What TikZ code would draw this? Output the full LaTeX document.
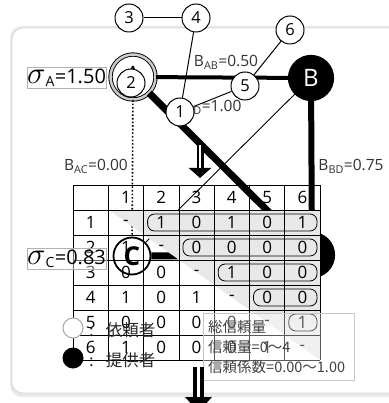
\documentclass[tikz,border=0pt]{standalone}
\usepackage{fontspec}
\usepackage{graphicx}
\setmainfont{Open Sans}
\newfontfamily\jpfont{Noto Sans CJK JP}
\usetikzlibrary{arrows.meta}

\begin{document}
\begin{tikzpicture}[x=1pt,y=-1pt,>=latex,
  num/.style={circle,draw,fill=white,line width=1pt,minimum size=28pt,inner sep=0pt,font=\fontsize{16.5}{16.5}\selectfont},
  agent/.style={circle,draw,line width=1.2pt,minimum size=45pt,inner sep=0pt,font=\fontsize{24}{24}\selectfont},
  weight/.style={inner sep=0pt,text=black!80,font=\fontsize{15.5}{15.5}\selectfont},
  sigmaBox/.style={draw=gray!60,fill=white,fill opacity=0.4,text opacity=1,minimum width=79pt,minimum height=21pt,inner sep=0pt,font=\fontsize{20}{20}\selectfont},
  cell/.style={inner sep=0pt,font=\fontsize{17}{17}\selectfont},
  pill/.style={draw,line width=0.8pt,rounded corners=7pt},
  info/.style={anchor=west,inner sep=0pt,text=black!75,font=\jpfont\fontsize{14.5}{14.5}\selectfont},
  key/.style={anchor=west,inner sep=0pt,text=black!85,font=\jpfont\fontsize{16.5}{16.5}\selectfont}
]
\useasboundingbox (0,0) rectangle (388,403);

% Panel with a soft grey rim.
\fill[gray!18,rounded corners=12pt] (10,26) rectangle (420,397);
\draw[gray!30,line width=0.8pt,fill=white,rounded corners=11pt] (12,28) rectangle (420,393);

% Agents A--D.
\node[agent,double=gray!40,double distance=2.5pt,line width=0.9pt] (agentA) at (133,77) {\raisebox{4pt}{A}};
\node[agent,fill=black,text=white] (agentB) at (311,78) {B};
\node[agent,fill=white,line width=1.8pt,minimum size=37pt,font=\bfseries\fontsize{26}{26}\selectfont] (agentC) at (132,256) {C};
\node[agent,fill=black,text=white] (agentD) at (312,255) {D};

% Links, width follows the trust coefficient.
\draw[line width=4pt] (agentA) -- (agentB);
\draw[line width=7pt] (agentA) -- (agentD);
\draw[line width=6pt] (agentB) -- (agentD);
\draw[line width=0.9pt] (agentB) -- (agentC);
\draw[line width=1.6pt,dotted] (agentA) -- (agentC);
\draw[line width=7pt] (agentC) -- (agentD);

\node[weight] (wAB) at (226,62) {B\textsubscript{AB}=0.50};
\node[weight] (wCD) at (209,107) {B\textsubscript{CD}=1.00};
\node[weight] (wAC) at (96,166) {B\textsubscript{AC}=0.00};
\node[weight] (wBD) at (351,166) {B\textsubscript{BD}=0.75};

% Arrow into the matrix.
\coordinate (topArrowStart) at (200,145);
\coordinate (topArrowTip) at (200,178);
\draw[line width=7pt,-{Triangle[width=22pt,length=10pt]}] (topArrowStart) -- (topArrowTip);
\draw[white,line width=1.5pt] (topArrowStart) -- (200,168);

% Upper triangle of the matrix is shaded.
\fill[gray!18] (109,210) -- (320,210) -- (320,360) -- cycle;
\foreach \i in {0,...,7}{
  \draw[line width=0.8pt] ({73+35.3*\i},185) -- ({73+35.3*\i},360);
}
\foreach \j in {0,...,7}{
  \draw[line width=0.8pt] (73,{185+25*\j}) -- (320.1,{185+25*\j});
}

% Trust matrix: header row, then rows 1--6 with the row label first.
\foreach \r/\entries in {0/{{},1,2,3,4,5,6},1/{1,-,1,0,1,0,1},2/{2,1,-,0,0,0,0},3/{3,0,0,-,1,0,0},4/{4,1,0,1,-,0,0},5/{5,0,0,0,0,-,1},6/{6,1,0,0,0,1,-}}{
  \foreach \v [count=\c from 0] in \entries{
    \node[cell] (cell\r\c) at ({73+35.3*(\c+0.5)},{185+25*(\r+0.5)}) {\v};
  }
}
\foreach \r in {1,...,5}{
  \draw[pill] ({73+35.3*(\r+1)+4},{185+25*\r+4}) rectangle (317,{185+25*(\r+1)-4});
}

% Numbered members.
\node[num] (n3) at (129,18) {3};
\node[num] (n4) at (196,18) {4};
\node[num] (n6) at (290,30) {6};
\node[num] (n2) at (131,83) {2};
\node[num] (n1) at (180,112) {1};
\node[num] (n5) at (245,86) {5};
\draw[line width=1pt] (n3) -- (n4);
\draw[line width=1pt] (n4) -- (n1);
\draw[line width=1pt] (n1) -- (n5);
\draw[line width=1pt] (n5) -- (n6);

% Group deviations.
\node[sigmaBox] (sigmaA) at (66.5,77.5) {\scalebox{1.5}{$\sigma$}\textsubscript{A}=1.50};
\node[sigmaBox] (sigmaC) at (66.5,258.5) {\scalebox{1.5}{$\sigma$}\textsubscript{C}=0.83};

% Legend.
\node[circle,draw=gray!70,fill=white,line width=1pt,minimum size=20pt,inner sep=0pt] (keyRequester) at (73,328) {};
\node[circle,fill=black,minimum size=21pt,inner sep=0pt] (keyProvider) at (73,358) {};
\node[key] (keyRequesterText) at (89,330) {:\hspace{12pt}依頼者};
\node[key] (keyProviderText) at (89,360) {:\hspace{12pt}提供者};

% Value ranges.
\node[draw=gray!45,fill=white,fill opacity=0.35,minimum width=151pt,minimum height=67pt,inner sep=0pt] (infoBox) at (278.5,346.5) {};
\node[info] (infoTotal) at (208,327) {総信頼量};
\node[info] (infoAmount) at (208,347) {信頼量=0～4};
\node[info] (infoCoeff) at (208,367) {信頼係数=0.00～1.00};

% Arrow out of the matrix.
\coordinate (bottomArrowStart) at (198.5,367);
\coordinate (bottomArrowTip) at (198.5,412);
\draw[line width=11pt,-{Triangle[width=26pt,length=15pt]}] (bottomArrowStart) -- (bottomArrowTip);
\draw[white,line width=3pt] (bottomArrowStart) -- (198.5,397);
\end{tikzpicture}
\end{document}
